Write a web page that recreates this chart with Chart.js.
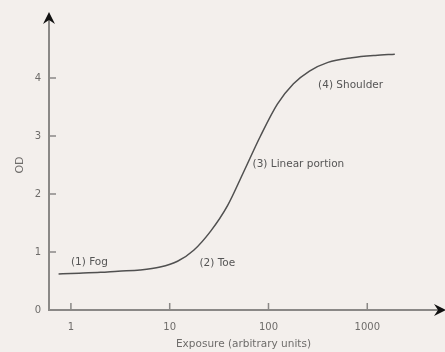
<!DOCTYPE html>
<html>
<head>
<meta charset="utf-8">
<script src="https://cdn.jsdelivr.net/npm/chart.js@4.4.1/dist/chart.umd.min.js"></script>
<style>
  html, body { margin: 0; padding: 0; background: #f3efec; }
  #wrap { width: 445px; height: 352px; }
</style>
</head>
<body>
<div id="wrap"><canvas id="hd"></canvas></div>
<script>
// Characteristic (H&D) curve
const exposure = [0.75, 1, 2, 3, 5, 8, 12, 17.5, 26, 38.5, 56, 83, 123, 179, 260, 400, 700, 1200, 1900];
const density  = [0.62, 0.63, 0.65, 0.67, 0.69, 0.74, 0.84, 1.03, 1.36, 1.8, 2.38, 3.0, 3.55, 3.9, 4.12, 4.27, 4.35, 4.39, 4.41];
const xTicks = [1, 10, 100, 1000];
const yTicks = [0, 1, 2, 3, 4];

// region labels, placed in data units (left edge, vertical centre)
const regions = [
    { text: '(1) Fog', x: 1.0, y: 0.83 },
    { text: '(2) Toe', x: 20, y: 0.81 },
    { text: '(3) Linear portion', x: 69, y: 2.52 },
    { text: '(4) Shoulder', x: 318, y: 3.88 }
];

const AXIS = '#8a8886';
const TEXT = '#6e6c6a';
const FONT = '"DejaVu Sans", sans-serif';

// --- axis extras: inward ticks, arrow heads, region labels ---
const extras = {
    id: 'extras',
    afterDraw(chart) {
        const { ctx, chartArea: a, scales: { x, y } } = chart;
        ctx.save();
        ctx.strokeStyle = AXIS;
        ctx.lineWidth = 1.5;
        ctx.beginPath();
        xTicks.forEach(v => {
            const px = x.getPixelForValue(v);
            ctx.moveTo(px, a.bottom);
            ctx.lineTo(px, a.bottom - 7);
        });
        yTicks.slice(1).forEach(v => {
            const py = y.getPixelForValue(v);
            ctx.moveTo(a.left, py);
            ctx.lineTo(a.left + 7, py);
        });
        ctx.stroke();

        // arrow heads
        ctx.fillStyle = '#111';
        ctx.beginPath();
        ctx.moveTo(a.left, a.top - 8);
        ctx.lineTo(a.left + 6, a.top + 4);
        ctx.lineTo(a.left, a.top);
        ctx.lineTo(a.left - 6, a.top + 4);
        ctx.closePath();
        ctx.fill();
        ctx.beginPath();
        ctx.moveTo(a.right + 8, a.bottom);
        ctx.lineTo(a.right - 4, a.bottom - 6);
        ctx.lineTo(a.right, a.bottom);
        ctx.lineTo(a.right - 4, a.bottom + 6);
        ctx.closePath();
        ctx.fill();

        ctx.fillStyle = '#555';
        ctx.font = '10.5px ' + FONT;
        ctx.textBaseline = 'middle';
        regions.forEach(r => ctx.fillText(r.text, x.getPixelForValue(r.x), y.getPixelForValue(r.y)));
        ctx.restore();
    }
};

new Chart(document.getElementById('hd'), {
    type: 'line',
    data: {
        datasets: [{
            data: exposure.map((e, i) => ({ x: e, y: density[i] })),
            borderColor: '#505050',
            borderWidth: 1.5,
            pointRadius: 0,
            cubicInterpolationMode: 'monotone',
            fill: false
        }]
    },
    options: {
        responsive: true,
        maintainAspectRatio: false,
        animation: false,
        layout: { padding: { top: 20, right: 7, left: 0, bottom: 0 } },
        plugins: { legend: { display: false }, tooltip: { enabled: false } },
        scales: {
            x: {
                type: 'logarithmic',
                min: 0.61, max: 5200,
                afterBuildTicks: s => { s.ticks = xTicks.map(v => ({ value: v })); },
                afterFit: s => { s.height = 42; },
                grid: { display: false, drawTicks: false },
                border: { color: AXIS, width: 2 },
                ticks: { color: TEXT, font: { size: 10, family: FONT }, padding: 11, maxRotation: 0, callback: v => String(v) },
                title: { display: true, text: 'Exposure (arbitrary units)', color: TEXT, font: { size: 10.5, family: FONT }, padding: { top: 0, bottom: 1 } }
            },
            y: {
                min: 0, max: 5,
                afterBuildTicks: s => { s.ticks = yTicks.map(v => ({ value: v })); },
                afterFit: s => { s.width = 49; },
                grid: { display: false, drawTicks: false },
                border: { color: AXIS, width: 2 },
                ticks: { color: TEXT, font: { size: 10, family: FONT }, padding: 8 },
                title: { display: true, text: 'OD', color: TEXT, font: { size: 11, family: FONT }, padding: { top: 14, bottom: 0 } }
            }
        }
    },
    plugins: [extras]
});
</script>
</body>
</html>
